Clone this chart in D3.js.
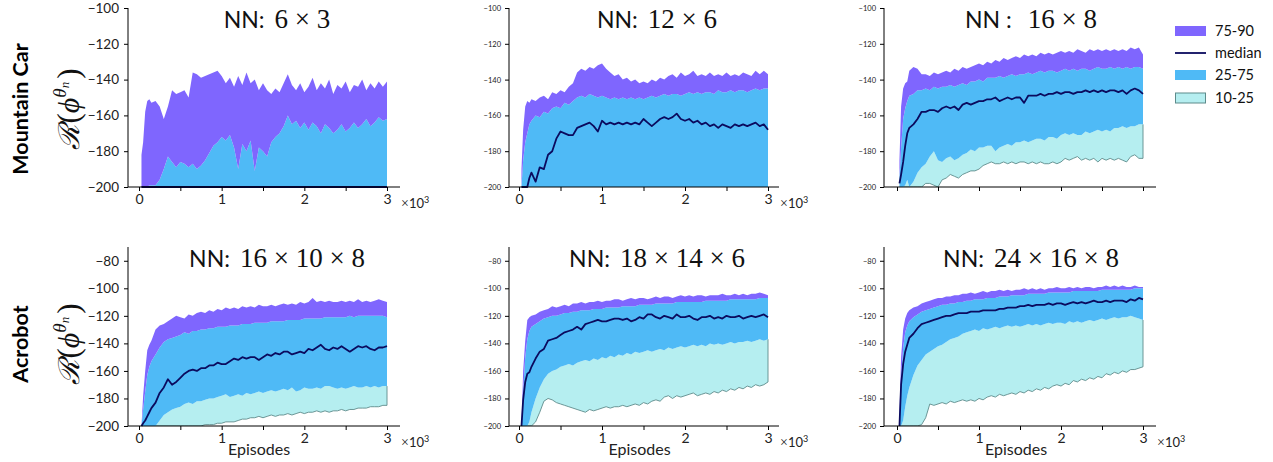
<!DOCTYPE html>
<html><head><meta charset="utf-8">
<script src="https://cdn.jsdelivr.net/npm/d3@7"></script>
<style>body{margin:0;background:#fff}</style>
</head><body>
<script>
// ---------- DATA ----------
const episodes = [30,50,75,100,125,150,200,250,300,350,400,450,500,550,600,650,700,750,800,850,900,950,1000,1050,1100,1150,1200,1250,1300,1350,1400,1450,1500,1550,1600,1650,1700,1750,1800,1850,1900,1950,2000,2050,2100,2150,2200,2250,2300,2350,2400,2450,2500,2550,2600,2650,2700,2750,2800,2850,2900,2950,3000];
const rowLabels = ["Mountain Car", "Acrobot"];
const titleNums = ["6 \u00d7 3", "12 \u00d7 6", "16 \u00d7 8", "16 \u00d7 10 \u00d7 8", "18 \u00d7 14 \u00d7 6", "24 \u00d7 16 \u00d7 8"];
const legendLabels = ["75-90", "median", "25-75", "10-25"];
const yTicksTop = [-200,-180,-160,-140,-120,-100];
const yTicksBottom = [-200,-180,-160,-140,-120,-100,-80];
const xTicks = [0,500,1000,1500,2000,2500,3000];

// Mountain Car 6x3 (median, 25th, 10th at the -200 floor)
const mc6_p90 = [-182,-175,-158,-152,-151,-153, -152,-155,-162,-155,-146,-148,-147,-146,-150,-136, -137,-139,-138,-137,-136,-135,-138,-142,-139,-144, -138,-143,-136,-142,-140,-146,-142,-146,-148,-145, -147,-142,-137,-143,-146,-142,-147,-144,-139,-146, -142,-145,-140,-148,-143,-145,-141,-147,-143,-144, -140,-146,-142,-145,-141,-144,-141];
const mc6_p75 = [-200,-200,-200,-200,-199,-199, -199,-196,-190,-183,-186,-189,-186,-187,-189,-187, -190,-188,-185,-181,-177,-175,-172,-174,-171,-178, -190,-176,-180,-174,-191,-178,-180,-183,-175,-172, -170,-166,-160,-165,-163,-167,-164,-168,-164,-166, -170,-165,-167,-170,-168,-165,-169,-167,-164,-167, -165,-162,-166,-164,-161,-163,-162];
const mc6_p50 = null, mc6_p25 = null, mc6_p10 = null;

// Mountain Car 12x6 (25th, 10th at the floor)
const mc12_p90 = [-190,-168,-155,-152,-153,-151, -152,-150,-149,-151,-147,-148,-146,-147,-144,-142, -136,-134,-135,-133,-134,-132,-131,-134,-136,-138, -137,-140,-139,-141,-140,-142,-141,-142,-140,-141, -139,-140,-138,-137,-139,-136,-138,-137,-135,-138, -137,-138,-136,-138,-137,-138,-136,-138,-137,-138, -136,-137,-138,-135,-137,-135,-137];
const mc12_p75 = [-200,-185,-175,-170,-165,-163, -160,-161,-158,-159,-156,-155,-156,-153,-154,-152, -150,-149,-150,-148,-149,-150,-149,-150,-151,-150, -151,-150,-151,-150,-151,-150,-151,-150,-149,-150, -149,-148,-149,-148,-148,-149,-148,-147,-148,-147, -148,-147,-147,-148,-146,-147,-147,-146,-147,-146, -146,-147,-146,-145,-146,-145,-145];
const mc12_p50 = [-200,-200,-200,-200,-195,-192, -197,-189,-190,-182,-180,-173,-169,-170,-171,-171, -167,-166,-165,-164,-166,-169,-163,-165,-164,-165, -164,-165,-164,-165,-164,-165,-162,-164,-166,-164, -162,-161,-162,-161,-159,-162,-163,-162,-164,-163, -165,-164,-166,-165,-167,-165,-166,-167,-165,-166, -165,-166,-165,-164,-166,-165,-168];
const mc12_p25 = null, mc12_p10 = null;

// Mountain Car 16x8
const mc16_p90 = [-185,-155,-145,-142,-141,-135, -133,-134,-137,-137,-138,-136,-137,-136,-135,-136, -134,-135,-133,-134,-133,-132,-131,-132,-130,-131, -129,-130,-128,-129,-128,-127,-128,-126,-127,-126, -127,-125,-126,-125,-126,-125,-124,-125,-124,-125, -123,-124,-125,-123,-124,-123,-124,-123,-124,-123, -124,-123,-124,-122,-123,-122,-126];
const mc16_p75 = [-195,-178,-162,-156,-152,-149, -148,-146,-146,-145,-146,-144,-145,-144,-144,-143, -144,-143,-142,-143,-141,-141,-140,-141,-139,-139, -139,-138,-139,-138,-137,-138,-137,-137,-136,-137, -136,-135,-136,-135,-135,-136,-135,-134,-135,-134, -135,-134,-134,-135,-134,-133,-134,-134,-133,-134, -133,-134,-133,-134,-133,-133,-134];
const mc16_p50 = [-198,-193,-186,-177,-170,-167, -165,-162,-158,-158,-157,-157,-158,-156,-155,-156, -155,-157,-154,-153,-154,-153,-152,-152,-151,-151, -150,-152,-151,-150,-151,-150,-150,-153,-149,-149, -149,-148,-149,-148,-148,-147,-148,-147,-147,-148, -147,-147,-146,-147,-146,-147,-146,-147,-146,-146, -147,-146,-148,-146,-145,-146,-148];
const mc16_p25 = [-200,-200,-200,-199,-196,-200, -197,-192,-189,-187,-183,-180,-185,-186,-184,-183, -185,-184,-182,-181,-179,-180,-178,-178,-177,-177, -180,-178,-177,-176,-177,-175,-175,-174,-175,-174, -173,-173,-174,-172,-172,-173,-171,-170,-171,-170, -171,-171,-169,-170,-169,-168,-169,-168,-169,-167, -167,-166,-167,-166,-166,-165,-165];
const mc16_p10 = [-200,-200,-200,-200,-200,-200, -200,-200,-200,-198,-198,-199,-200,-196,-195,-193, -194,-195,-193,-192,-191,-191,-190,-188,-187,-186, -187,-187,-186,-187,-186,-187,-186,-186,-187,-186, -187,-186,-187,-187,-186,-187,-186,-184,-185,-184, -183,-185,-184,-185,-184,-186,-184,-185,-184,-185, -184,-185,-186,-183,-182,-184,-184];

// Acrobot 16x10x8
const ac16_p90 = [-200,-178,-160,-145,-141,-138, -130,-127,-126,-124,-122,-120,-121,-122,-119,-120, -118,-117,-118,-116,-117,-115,-116,-114,-115,-114, -115,-113,-114,-113,-114,-112,-113,-113,-112,-113, -112,-111,-112,-111,-112,-110,-111,-110,-107,-110, -109,-110,-109,-110,-110,-109,-110,-109,-110,-108, -110,-109,-110,-109,-108,-109,-110];
const ac16_p75 = [-200,-188,-175,-163,-157,-153, -148,-143,-139,-137,-136,-135,-134,-132,-133,-131, -131,-130,-130,-129,-129,-128,-128,-128,-127,-127, -127,-126,-126,-126,-125,-125,-125,-125,-124,-124, -124,-124,-123,-123,-123,-123,-122,-122,-122,-122, -122,-121,-121,-121,-121,-121,-121,-120,-121,-120, -120,-120,-120,-120,-120,-120,-121];
const ac16_p50 = [-200,-198,-196,-193,-190,-187, -183,-176,-172,-166,-170,-168,-165,-162,-160,-159, -160,-158,-158,-156,-156,-154,-155,-155,-153,-151, -152,-150,-151,-150,-150,-152,-150,-148,-149,-147, -148,-146,-146,-148,-147,-146,-147,-144,-145,-143, -141,-144,-145,-143,-144,-142,-144,-146,-144,-142, -143,-142,-144,-145,-143,-143,-142];
const ac16_p25 = [-200,-200,-200,-200,-200,-200, -200,-196,-192,-190,-188,-187,-186,-184,-183,-184, -182,-182,-181,-180,-180,-179,-178,-177,-179,-178, -177,-178,-176,-177,-176,-175,-176,-175,-174,-175, -174,-173,-174,-172,-175,-174,-172,-173,-173,-172, -173,-171,-171,-172,-173,-172,-173,-172,-171,-172, -172,-171,-172,-171,-172,-171,-171];
const ac16_p10 = [-200,-200,-200,-200,-200,-200, -200,-200,-200,-200,-200,-200,-200,-200,-200,-200, -200,-200,-199,-199,-199,-198,-198,-197,-197,-197, -196,-195,-195,-194,-194,-193,-194,-193,-192,-193, -192,-192,-191,-192,-191,-190,-191,-190,-190,-189, -190,-189,-190,-189,-189,-188,-189,-188,-188,-187, -187,-187,-186,-186,-186,-185,-185];

// Acrobot 18x14x6
const ac18_p90 = [-200,-160,-138,-123,-121,-120, -119,-117,-116,-115,-113,-114,-113,-112,-113,-111, -111,-110,-111,-110,-110,-109,-110,-109,-109,-108, -108,-109,-108,-107,-108,-107,-107,-108,-107,-106, -107,-106,-106,-107,-106,-105,-106,-105,-106,-105, -105,-106,-105,-105,-105,-104,-105,-105,-104,-105, -104,-105,-104,-104,-103,-104,-105];
const ac18_p75 = [-200,-175,-150,-137,-131,-128, -126,-124,-122,-121,-120,-120,-119,-118,-118,-117, -117,-116,-116,-116,-115,-115,-115,-114,-114,-114, -114,-113,-113,-113,-113,-112,-112,-112,-112,-111, -111,-111,-111,-111,-110,-110,-110,-110,-110,-110, -110,-109,-109,-109,-109,-109,-109,-108,-108,-108, -108,-108,-108,-108,-107,-107,-107];
const ac18_p50 = [-200,-181,-168,-162,-161,-157, -151,-146,-144,-138,-137,-136,-134,-132,-131,-130, -128,-130,-126,-125,-124,-123,-124,-124,-123,-122, -122,-123,-122,-124,-123,-121,-122,-119,-119,-121, -122,-120,-121,-122,-119,-121,-121,-120,-122,-123, -121,-121,-120,-122,-121,-122,-120,-121,-121,-120, -122,-121,-120,-121,-120,-119,-121];
const ac18_p25 = [-200,-200,-200,-200,-197,-190, -180,-172,-166,-162,-160,-159,-157,-156,-155,-156, -154,-153,-152,-153,-151,-152,-150,-151,-149,-150, -148,-149,-147,-148,-146,-147,-146,-145,-146,-145, -144,-145,-143,-144,-143,-142,-143,-142,-141,-142, -141,-142,-140,-141,-140,-141,-140,-139,-140,-139, -139,-138,-139,-138,-137,-138,-137];
const ac18_p10 = [-200,-200,-200,-200,-200,-200, -197,-190,-182,-180,-181,-183,-184,-185,-186,-187, -188,-189,-190,-188,-189,-188,-187,-186,-187,-186, -186,-185,-186,-185,-184,-185,-183,-184,-182,-181, -182,-179,-178,-180,-178,-179,-178,-177,-176,-178, -177,-176,-177,-175,-176,-174,-175,-173,-174,-172, -173,-171,-172,-170,-171,-170,-168];

// Acrobot 24x16x8
const ac24_p90 = [-192,-150,-130,-122,-118,-116, -114,-113,-111,-110,-109,-108,-107,-107,-106,-106, -105,-105,-104,-104,-103,-104,-103,-102,-103,-102, -102,-101,-102,-101,-102,-101,-101,-100,-101,-100, -101,-100,-101,-100,-100,-99,-100,-100,-99,-100, -99,-100,-99,-99,-100,-99,-99,-98,-99,-98, -99,-98,-99,-99,-98,-99,-99];
const ac24_p75 = [-198,-165,-143,-132,-127,-124, -121,-119,-117,-116,-115,-114,-113,-112,-112,-111, -111,-110,-110,-109,-109,-108,-108,-108,-107,-107, -107,-106,-106,-106,-105,-105,-105,-105,-104,-104, -104,-104,-104,-103,-103,-103,-103,-103,-103,-102, -102,-102,-102,-102,-102,-102,-101,-101,-101,-101, -101,-101,-101,-101,-100,-100,-100];
const ac24_p50 = [-200,-170,-155,-146,-141,-136, -133,-129,-126,-125,-124,-123,-122,-121,-120,-120, -119,-118,-118,-118,-117,-117,-117,-116,-116,-116, -116,-115,-115,-114,-114,-114,-113,-113,-112,-113, -112,-112,-112,-111,-112,-111,-111,-112,-111,-110, -111,-110,-111,-110,-109,-110,-110,-109,-110,-109, -109,-109,-110,-108,-109,-107,-108];
const ac24_p25 = [-200,-200,-196,-186,-178,-172, -163,-156,-152,-148,-146,-144,-142,-141,-139,-137, -136,-135,-133,-132,-131,-130,-131,-129,-130,-129, -128,-129,-128,-127,-128,-127,-128,-127,-126,-127, -126,-127,-126,-125,-126,-125,-125,-126,-124,-125, -124,-125,-124,-123,-124,-123,-122,-123,-122,-121, -122,-121,-121,-120,-121,-122,-123];
const ac24_p10 = [-200,-200,-200,-200,-200,-200, -200,-200,-199,-194,-184,-185,-184,-183,-184,-182, -183,-182,-181,-182,-181,-182,-180,-181,-179,-178, -179,-177,-178,-177,-176,-177,-175,-176,-174,-175, -173,-174,-172,-173,-171,-170,-171,-169,-170,-167, -168,-166,-167,-165,-166,-164,-165,-162,-163,-161, -162,-160,-161,-159,-159,-158,-157];

const panels = [
  {row:0, col:0, title:"NN:", nums:titleNums[0], p90:mc6_p90, p75:mc6_p75, p50:mc6_p50, p25:mc6_p25, p10:mc6_p10},
  {row:0, col:1, title:"NN:", nums:titleNums[1], p90:mc12_p90, p75:mc12_p75, p50:mc12_p50, p25:mc12_p25, p10:mc12_p10},
  {row:0, col:2, title:"NN :", nums:titleNums[2], p90:mc16_p90, p75:mc16_p75, p50:mc16_p50, p25:mc16_p25, p10:mc16_p10},
  {row:1, col:0, title:"NN:", nums:titleNums[3], p90:ac16_p90, p75:ac16_p75, p50:ac16_p50, p25:ac16_p25, p10:ac16_p10},
  {row:1, col:1, title:"NN:", nums:titleNums[4], p90:ac18_p90, p75:ac18_p75, p50:ac18_p50, p25:ac18_p25, p10:ac18_p10},
  {row:1, col:2, title:"NN:", nums:titleNums[5], p90:ac24_p90, p75:ac24_p75, p50:ac24_p50, p25:ac24_p25, p10:ac24_p10}
];

// ---------- LAYOUT ----------
const FLOOR = -200;
const colors = {p90:"#7f66fe", p75:"#4fbaf6", p25:"#b5eef0", edge:"#5d8b8b", median:"#0b0b5e"};
const rows = [
  {top:8, bottom:187, domain:[-200,-100], ticks:yTicksTop, titleY:28, labelCY:109},
  {top:247, bottom:426, domain:[-200,-70], ticks:yTicksBottom, titleY:267, labelCY:344}
];
const cols = [
  {axisX:128, x0:139, x3:387, end:400, bigY:true, titleX:277},
  {axisX:509, x0:519, x3:768, end:779, bigY:false, titleX:657},
  {axisX:884, x0:897, x3:1143, end:1156, bigY:false, titleX:1031}
];
const SANS = "Lato, 'Open Sans', sans-serif";
const SERIF = "'Liberation Serif', 'DejaVu Serif', serif";

const svg = d3.select("body").append("svg").attr("width",1273).attr("height",462);

panels.forEach((p, i) => {
  const R = rows[p.row], C = cols[p.col];
  const x = d3.scaleLinear().domain([0,3000]).range([C.x0, C.x3]);
  const y = d3.scaleLinear().domain(R.domain).range([R.bottom, R.top]);
  const g = svg.append("g");
  const clipId = "clip" + i;
  svg.append("clipPath").attr("id", clipId).append("rect")
    .attr("x", C.axisX).attr("y", R.top).attr("width", C.end - C.axisX).attr("height", R.bottom - R.top);
  const val = (arr, k) => arr ? arr[k] : FLOOR;
  const rowsData = episodes.map((e,k) => ({e, p90:val(p.p90,k), p75:val(p.p75,k), p50:val(p.p50,k), p25:val(p.p25,k), p10:val(p.p10,k)}));
  const band = (lo, hi) => d3.area().x(d => x(d.e)).y0(d => y(Math.max(FLOOR, d[lo]))).y1(d => y(Math.max(FLOOR, d[hi])));
  const plot = g.append("g").attr("clip-path", `url(#${clipId})`);
  plot.append("path").datum(rowsData).attr("d", band("p10","p25")).attr("fill", colors.p25);
  const last = rowsData[rowsData.length-1];
  const edgeLine = d3.line().x(d => x(d.e)).y(d => y(d.v));
  const edgePts = rowsData.map(d => ({e:d.e, v:d.p10})).concat([{e:last.e, v:last.p25}]);
  if (p.p10) plot.append("path").datum(edgePts).attr("d", edgeLine).attr("fill","none").attr("stroke", colors.edge).attr("stroke-width", 0.9);
  plot.append("path").datum(rowsData).attr("d", band("p25","p75")).attr("fill", colors.p75);
  plot.append("path").datum(rowsData).attr("d", band("p75","p90")).attr("fill", colors.p90);
  const medPts = rowsData.map(d => ({e:d.e, v:d.p50}));
  g.append("path").datum(medPts).attr("d", edgeLine).attr("fill","none").attr("stroke", colors.median).attr("stroke-width", 1.8).attr("stroke-linejoin","round");

  // spines
  g.append("line").attr("x1", C.axisX).attr("x2", C.axisX).attr("y1", R.top).attr("y2", R.bottom).attr("stroke","#000").attr("stroke-width",1);
  g.append("line").attr("x1", C.axisX).attr("x2", C.end).attr("y1", R.bottom).attr("y2", R.bottom).attr("stroke","#000").attr("stroke-width",1);

  // y axis
  const ya = g.append("g").attr("transform", `translate(${C.axisX},0)`)
    .call(d3.axisLeft(y).tickValues(R.ticks).tickSize(4).tickPadding(C.bigY ? 5 : 4).tickSizeOuter(0));
  ya.select(".domain").remove();
  ya.selectAll("text").attr("font-family", SANS).attr("font-size", C.bigY ? 13.5 : 7.5).attr("fill","#222");
  // x axis
  const showX = !(p.row === 0 && p.col === 2);
  const xa = g.append("g").attr("transform", `translate(0,${R.bottom})`)
    .call(d3.axisBottom(x).tickValues(xTicks).tickSize(4).tickPadding(3).tickSizeOuter(0)
      .tickFormat(d => (showX && d % 1000 === 0) ? String(d/1000) : ""));
  xa.select(".domain").remove();
  xa.selectAll("text").attr("font-family", SANS).attr("font-size", 14).attr("fill","#222");
  if (showX) {
    const t = g.append("text").attr("x", C.end + 1).attr("y", R.bottom + 21).attr("font-size", 13).attr("fill","#222");
    t.append("tspan").attr("font-family", SERIF).attr("font-size", 14).text("\u00d7");
    t.append("tspan").attr("font-family", SANS).text("10");
    t.append("tspan").attr("font-family", SANS).attr("font-size", 9).attr("dy", -5).text("3");
  }
  if (p.row === 1) {
    g.append("text").attr("x", (C.x0 + C.x3)/2 - 4).attr("y", R.bottom + 29).attr("text-anchor","middle")
      .attr("font-family", SANS).attr("font-size", 16).attr("fill","#222").text("Episodes");
  }
  // title
  const tt = g.append("text").attr("x", C.titleX).attr("y", R.titleY).attr("text-anchor","middle").attr("fill","#111");
  tt.append("tspan").attr("font-family", SANS).attr("font-size", 23).text(p.title);
  tt.append("tspan").attr("font-family", SERIF).attr("font-size", 27).attr("dx", p.col===2 && p.row===0 ? 16 : 10).text(p.nums);
});

// row labels & y titles
rows.forEach((R, r) => {
  const cy = R.labelCY;
  svg.append("text").attr("transform", `translate(28,${cy}) rotate(-90)`).attr("text-anchor","middle")
    .attr("font-family", SANS).attr("font-weight", "bold").attr("font-size", 21.5).attr("fill","#000").text(rowLabels[r]);
  const yt = svg.append("text").attr("transform", `translate(79,${cy}) rotate(-90)`).attr("text-anchor","middle").attr("fill","#111");
  yt.append("tspan").attr("font-family", "'DejaVu Serif', serif").attr("font-style","italic").attr("font-size", 29).text("\u211b");
  yt.append("tspan").attr("font-family", SERIF).attr("font-size", 31).attr("dx", 1).text("(");
  yt.append("tspan").attr("font-family", SERIF).attr("font-style","italic").attr("font-size", 30).text("\u03d5");
  yt.append("tspan").attr("font-family", SERIF).attr("font-style","italic").attr("font-size", 19).attr("dy", -13).text("\u03b8");
  yt.append("tspan").attr("font-family", SERIF).attr("font-style","italic").attr("font-size", 13).attr("dy", 3).text("n");
  yt.append("tspan").attr("font-family", SERIF).attr("font-size", 31).attr("dy", 10).attr("dx", 3).text(")");
});

// legend
const lg = svg.append("g").attr("transform","translate(1175,0)");
const legY = [31, 53, 75, 98];
lg.append("rect").attr("x",0).attr("y",legY[0]-5).attr("width",31).attr("height",10).attr("fill",colors.p90);
lg.append("line").attr("x1",0).attr("x2",31).attr("y1",legY[1]).attr("y2",legY[1]).attr("stroke",colors.median).attr("stroke-width",1.8);
lg.append("rect").attr("x",0).attr("y",legY[2]-5).attr("width",31).attr("height",10).attr("fill",colors.p75);
lg.append("rect").attr("x",0.5).attr("y",legY[3]-5).attr("width",30).attr("height",10).attr("fill",colors.p25).attr("stroke",colors.edge).attr("stroke-width",1);
legendLabels.forEach((t,k) => {
  lg.append("text").attr("x",40).attr("y",legY[k]+5).attr("font-family","'Liberation Sans Narrow', Lato, sans-serif").attr("font-size",14.5).attr("fill","#111").text(t);
});
</script>
</body></html>
